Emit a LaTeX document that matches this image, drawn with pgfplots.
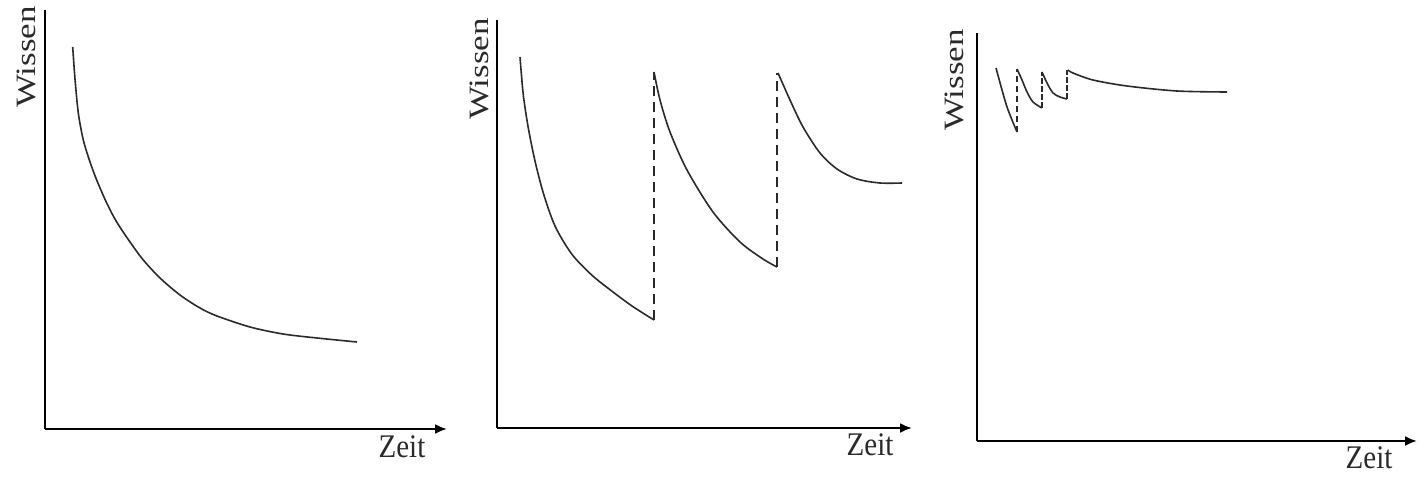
\documentclass[border=0pt]{standalone}
\usepackage{fontspec}
\setmainfont{Liberation Serif}
\usepackage{pgfplots}
\pgfplotsset{compat=1.18}
\usetikzlibrary{arrows.meta}
\definecolor{ink}{HTML}{2A2A2A}
\pgfplotsset{
  panel/.style={
    x=0.5pt, y=0.5pt, anchor=south west,
    axis lines=left, clip=false,
    xtick=\empty, ytick=\empty,
    axis line style={line width=1.1pt, black, -},
    x axis line style={-{Latex[length=6pt,width=5pt]}},
    xlabel={Zeit}, ylabel={Wissen},
    xlabel style={anchor=center, font=\fontsize{16.5}{18}\selectfont, xscale=0.88, text=ink},
    ylabel style={anchor=center, font=\fontsize{14}{16}\selectfont, xscale=1.25, text=ink},
  },
  curve/.style={line width=0.8pt, ink, smooth},
  jump/.style={line width=0.8pt, ink, dash pattern=on 5pt off 3pt},
}
\begin{document}
\begin{tikzpicture}
\useasboundingbox (0,0) rectangle (711pt,238.5pt);
% Panel 1
\begin{axis}[panel, at={(22.5pt,24pt)}, xmin=45, xmax=447, ymin=48, ymax=467,
  xlabel style={at={(axis description cs:0.888,-0.043)}},
  ylabel style={at={(axis description cs:-0.045,0.888)}}]
\addplot[curve] coordinates {(72.7,430) (75,398) (78.3,364) (83.3,337) (90,315) (96.7,297) (106.7,274) (116.7,255) (130,235) (143.3,217) (160,199) (180,182) (200,169) (217,161) (250,150) (283,143) (317,139) (357,135)};
\end{axis}
% Panel 2
\begin{axis}[panel, at={(248.5pt,24.5pt)}, xmin=497, xmax=912, ymin=49, ymax=457,
  xlabel style={at={(axis description cs:0.899,-0.042)}},
  ylabel style={at={(axis description cs:-0.043,0.880)}}]
\addplot[curve] coordinates {(520,420) (523.3,382) (528.3,349) (535,316) (543.3,284) (555,251) (571.7,223) (591.7,202) (611.7,186) (632,171) (654,157)};
\addplot[jump] coordinates {(654,157) (654,405)};
\addplot[curve] coordinates {(654,405) (660,377) (670,345) (687,307) (713,265) (740,235) (763,218) (777,210)};
\addplot[jump] coordinates {(777,210) (777,404)};
\addplot[curve] coordinates {(778,404) (790,377) (803,350) (820,324) (837,308) (857,298) (880,294) (902,294)};
\end{axis}
% Panel 3
\begin{axis}[panel, at={(488.5pt,18pt)}, xmin=977, xmax=1417, ymin=36, ymax=444,
  xlabel style={at={(axis description cs:0.891,-0.042)}},
  ylabel style={at={(axis description cs:-0.052,0.885)}}]
\addplot[curve] coordinates {(996,409) (1002,387) (1007,370) (1012,357) (1017,345)};
\addplot[jump, dash pattern=on 3pt off 2pt] coordinates {(1017,345) (1017,408)};
\addplot[curve] coordinates {(1017,408) (1022,397) (1027,385) (1033,375) (1042,369)};
\addplot[jump, dash pattern=on 3pt off 1pt] coordinates {(1042,369) (1042,405)};
\addplot[curve] coordinates {(1042,405) (1047,394) (1053,384) (1060,380) (1067,378)};
\addplot[jump, dash pattern=on 3pt off 1pt] coordinates {(1067,378) (1067,407)};
\addplot[curve] coordinates {(1068,407) (1073,404) (1093,397) (1127,391) (1177,386) (1227,385)};
\end{axis}
\end{tikzpicture}
\end{document}
